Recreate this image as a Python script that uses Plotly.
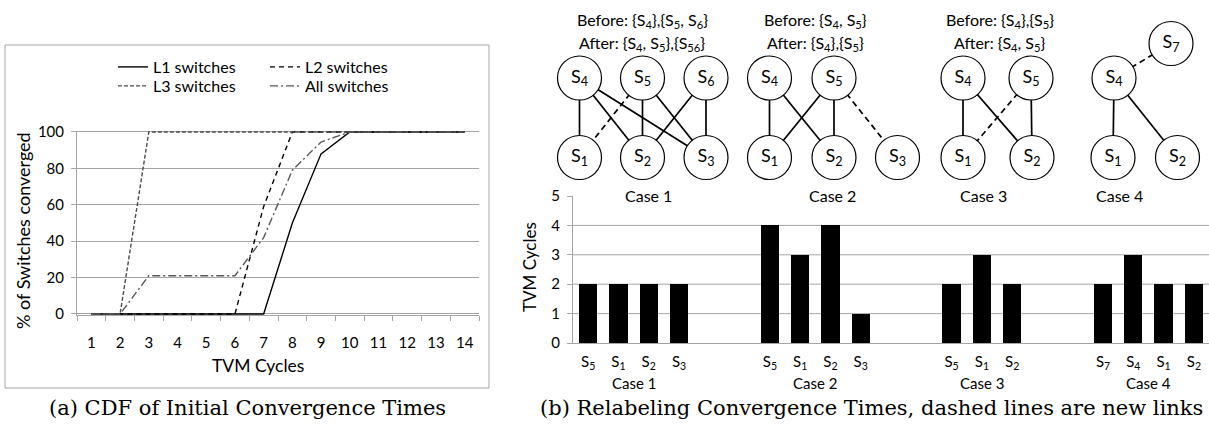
import plotly.graph_objects as go

W, H = 1209, 426
FONT = "Lato"
GRID = "#a6a6a6"

# ---------------- (a) CDF data ----------------
cycles = [str(i) for i in range(1, 15)]
l1_sw = [0, 0, 0, 0, 0, 0, 0, 50, 88, 100, 100, 100, 100, 100]
l2_sw = [0, 0, 0, 0, 0, 0, 59, 100, 100, 100, 100, 100, 100, 100]
l3_sw = [0, 0, 100, 100, 100, 100, 100, 100, 100, 100, 100, 100, 100, 100]
all_sw = [0, 0, 21, 21, 21, 21, 42, 79, 94.5, 100, 100, 100, 100, 100]
cdf_yticks = [0, 20, 40, 60, 80, 100]

# ---------------- (b) bar data ----------------
case_labels = ["Case 1", "Case 2", "Case 3", "Case 4"]
case_nodes = [["5", "1", "2", "3"], ["5", "1", "2", "3"], ["5", "1", "2"], ["7", "4", "1", "2"]]
case_cycles = [[2, 2, 2, 2], [4, 3, 4, 1], [2, 3, 2], [2, 3, 2, 2]]
bar_yticks = [0, 1, 2, 3, 4, 5]
bar_grid = [1, 2, 3, 4]

# ---------------- (b) topology diagrams (diagram coordinates) ----------------
diag_nodes = {
    "c1": {"4": (579.5, 78), "5": (642.5, 78), "6": (706, 78),
           "1": (579.5, 157.5), "2": (642.5, 157.5), "3": (706, 157.5)},
    "c2": {"4": (769.5, 78), "5": (834, 78),
           "1": (769.5, 157.5), "2": (834, 157.5), "3": (897.5, 157.5)},
    "c3": {"4": (963, 78), "5": (1031, 78), "1": (963, 157.5), "2": (1032, 157.5)},
    "c4": {"4": (1114, 78), "7": (1171, 43.5), "1": (1113, 157.5), "2": (1177.5, 157.5)},
}
diag_edges = {
    "c1": [("4", "1", False), ("4", "2", False), ("4", "3", False), ("5", "1", True),
           ("5", "2", False), ("5", "3", False), ("6", "2", False), ("6", "3", False)],
    "c2": [("4", "1", False), ("4", "2", False), ("5", "1", False), ("5", "2", False),
           ("5", "3", True)],
    "c3": [("4", "1", False), ("4", "2", False), ("5", "1", True), ("5", "2", False)],
    "c4": [("4", "7", True), ("4", "1", False), ("4", "2", False)],
}
diag_texts = [
    (642, 20, "Before: {S<sub>4</sub>},{S<sub>5</sub>, S<sub>6</sub>}"),
    (642, 43, "After: {S<sub>4</sub>, S<sub>5</sub>},{S<sub>56</sub>}"),
    (815, 20, "Before: {S<sub>4</sub>, S<sub>5</sub>}"),
    (815, 43, "After: {S<sub>4</sub>},{S<sub>5</sub>}"),
    (1000, 20, "Before: {S<sub>4</sub>},{S<sub>5</sub>}"),
    (1000, 43, "After: {S<sub>4</sub>, S<sub>5</sub>}"),
]
diag_case_pos = [(648, 195), (832, 195), (983, 195), (1119, 195)]


def px(x):
    return x / W


def py(y):
    return 1 - y / H


fig = go.Figure()

# ---- CDF lines ----
series = [
    ("L1 switches", l1_sw, "#000000", "solid", "legend", 118, 67),
    ("L2 switches", l2_sw, "#000000", "5px,4px", "legend2", 270, 67),
    ("L3 switches", l3_sw, "#4d4d4d", "4px,2px", "legend3", 118, 86),
    ("All switches", all_sw, "#595959", "8px,3px,2px,3px", "legend4", 270, 86),
]
legend_layout = {}
for name, vals, col, dash, leg, lx, ly in series:
    fig.add_trace(go.Scatter(x=cycles, y=vals, mode="lines", name=name,
                             line=dict(color=col, width=1.4, dash=dash),
                             xaxis="x", yaxis="y", legend=leg))
    legend_layout[leg] = dict(x=px(lx - 5), y=py(ly), xanchor="left", yanchor="middle",
                              bgcolor="rgba(0,0,0,0)", borderwidth=0,
                              font=dict(family=FONT, size=16, color="#000000"))

# ---- bars ----
slots, ticktext, heights, centers = [], [], [], []
pos = 0
for nodes, vals in zip(case_nodes, case_cycles):
    start = pos
    for n, v in zip(nodes, vals):
        slots.append(pos)
        ticktext.append("S<sub>%s</sub>" % n)
        heights.append(v)
        pos += 1
    centers.append((start + pos - 1) / 2)
    pos += 2
fig.add_trace(go.Bar(x=slots, y=heights, width=0.6, marker=dict(color="#000000", line=dict(width=0)),
                     xaxis="x2", yaxis="y2", showlegend=False))

# ---- diagrams ----
for key in diag_nodes:
    nodes = diag_nodes[key]
    for dashed in (False, True):
        xs, ys = [], []
        for a, b, d in diag_edges[key]:
            if d == dashed:
                xs += [nodes[a][0], nodes[b][0], None]
                ys += [nodes[a][1], nodes[b][1], None]
        if xs:
            fig.add_trace(go.Scatter(x=xs, y=ys, mode="lines", showlegend=False,
                                     line=dict(color="#000000", width=1.7,
                                               dash="6px,4px" if dashed else "solid"),
                                     xaxis="x3", yaxis="y3", hoverinfo="skip"))
    names = list(nodes.keys())
    fig.add_trace(go.Scatter(
        x=[nodes[n][0] for n in names], y=[nodes[n][1] for n in names],
        mode="markers+text", text=["S<sub>%s</sub>" % n for n in names],
        textposition="middle center", textfont=dict(family=FONT, size=18, color="#000000"),
        marker=dict(size=44, color="#ffffff", line=dict(color="#000000", width=1.2)),
        showlegend=False, xaxis="x3", yaxis="y3", cliponaxis=False))


def ann(x, y, text, size, xref="paper", yref="paper", angle=0, family=FONT):
    return dict(x=x, y=y, xref=xref, yref=yref, text=text, showarrow=False, textangle=angle,
                xanchor="center", yanchor="middle", font=dict(family=family, size=size, color="#000000"))


annotations = []
for x, y, t in diag_texts:
    annotations.append(ann(x, y, t, 16, "x3", "y3"))
for (x, y), lab in zip(diag_case_pos, case_labels):
    annotations.append(ann(x, y, lab, 16, "x3", "y3"))
for c, lab in zip(centers, case_labels):
    annotations.append(ann(c, py(383), lab, 15, "x2", "paper"))

annotations += [
    ann(px(23), py(231), "% of Switches converged", 18, angle=-90),
    ann(px(258), py(365), "TVM Cycles", 17.5),
    ann(px(529), py(267), "TVM Cycles", 17, angle=-90),
    ann(px(247), py(408), "(a) CDF of Initial Convergence Times", 21, family="DejaVu Serif"),
    ann(px(871), py(408), "(b) Relabeling Convergence Times, dashed lines are new links", 21,
        family="DejaVu Serif"),
]

shapes = [dict(type="rect", xref="paper", yref="paper", x0=px(5), x1=px(489),
               y0=py(388), y1=py(45), line=dict(color=GRID, width=1), layer="below")]
for g in bar_grid:
    shapes.append(dict(type="line", xref="x2", yref="y2", x0=-0.5, x1=20.5, y0=g, y1=g,
                       line=dict(color=GRID, width=1), layer="below"))

tickfont = dict(family=FONT, size=15, color="#000000")
unit = (314 - 132) / 100.0
pad = 0.6
fig.update_layout(
    width=W, height=H, margin=dict(l=0, r=0, t=0, b=0, pad=0, autoexpand=False),
    paper_bgcolor="#ffffff", plot_bgcolor="rgba(0,0,0,0)",
    font=dict(family=FONT, color="#000000"),
    xaxis=dict(domain=[px(77), px(479)], type="category", tickson="boundaries",
               range=[-0.5, len(cycles) - 0.5],
               ticks="outside", ticklen=5, tickcolor=GRID, showline=True, linecolor=GRID,
               showgrid=False, tickfont=tickfont, ticklabelstandoff=14, anchor="y",
               fixedrange=True),
    yaxis=dict(domain=[py(314 + pad * unit), py(132 - pad * unit)], range=[-pad, 100 + pad],
               tickvals=cdf_yticks, ticks="outside", ticklen=5, tickcolor=GRID,
               showline=True, linecolor=GRID, showgrid=True, gridcolor=GRID,
               zeroline=False, tickfont=tickfont, ticklabelstandoff=4, anchor="x"),
    xaxis2=dict(domain=[px(573), 1], range=[-0.5, 20.5], tickvals=slots, ticktext=ticktext,
                ticks="", showline=True, linecolor=GRID, showgrid=False, zeroline=False,
                tickfont=tickfont, ticklabelstandoff=5, anchor="y2"),
    yaxis2=dict(domain=[py(343), py(196)], range=[0, 5], tickvals=bar_yticks, ticks="outside",
                ticklen=5, tickcolor=GRID, showline=True, linecolor=GRID, showgrid=False,
                zeroline=False, tickfont=tickfont, ticklabelstandoff=4, anchor="x2"),
    xaxis3=dict(domain=[0, 1], range=[0, W], visible=False, anchor="y3"),
    yaxis3=dict(domain=[0, 1], range=[H, 0], visible=False, anchor="x3"),
    annotations=annotations, shapes=shapes, bargap=0,
    **legend_layout,
)

fig.write_html("out.html", config={"displayModeBar": False, "staticPlot": True},
               post_script="document.body.style.margin='0';document.body.style.overflow='hidden';")
